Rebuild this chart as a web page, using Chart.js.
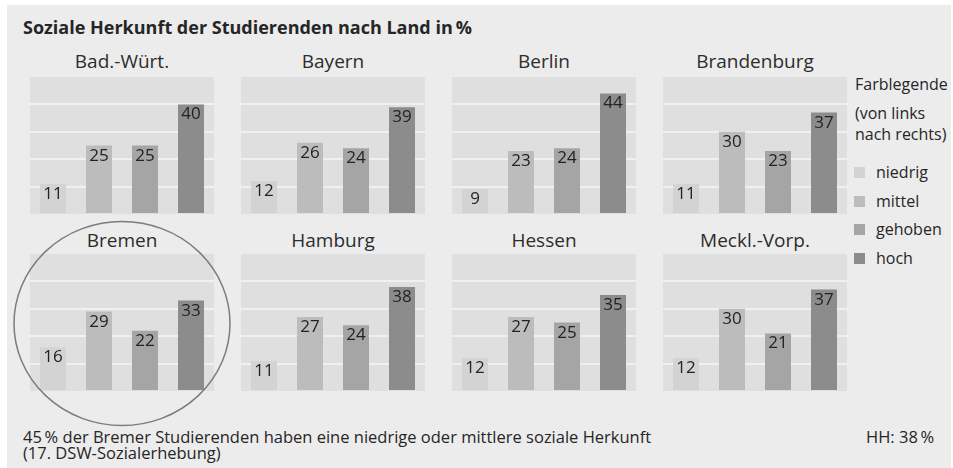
<!DOCTYPE html>
<html lang="de">
<head>
<meta charset="utf-8">
<title>Soziale Herkunft der Studierenden nach Land</title>
<script src="https://cdn.jsdelivr.net/npm/chart.js@4/dist/chart.umd.min.js"></script>
<style>
    body {
        margin: 0;
        width: 953px;
        height: 468px;
        background: #ffffff;
        font-family: "Open Sans", sans-serif;
        color: #262626;
        overflow: hidden;
    }
    .frame {
        position: absolute;
        left: 7px;
        top: 5px;
        width: 944px;
        height: 463px;
        background: #ececec;
    }
    .txt {
        position: absolute;
        white-space: nowrap;
        line-height: 1;
    }
    .main-title {
        left: 23px;
        top: 18px;
        font-size: 18px;
        font-weight: bold;
    }
    .panel-title {
        width: 184px;
        text-align: center;
        font-size: 19px;
        color: #2c2c2c;
    }
    .panel {
        position: absolute;
        width: 184px;
        height: 137px;
    }
    .legend-text {
        font-size: 16px;
        left: 855px;
    }
    .swatch {
        position: absolute;
        left: 854px;
        width: 11px;
        height: 11px;
    }
    .note {
        font-size: 16.5px;
    }
    svg.ring {
        position: absolute;
        left: 0;
        top: 0;
        pointer-events: none;
    }
</style>
</head>
<body>
<div class="frame"></div>
<div class="txt main-title">Soziale Herkunft der Studierenden nach Land in&#8201;%</div>
<div id="panels"></div>
<div id="legend"></div>
<div class="txt note" style="left:23px; top:429px;">45&#8201;% der Bremer Studierenden haben eine niedrige oder mittlere soziale Herkunft</div>
<div class="txt note" style="left:23px; top:444.5px;">(17. DSW-Sozialerhebung)</div>
<div class="txt note" style="left:866px; top:429px;">HH: 38&#8201;%</div>
<svg class="ring" width="953" height="468">
    <ellipse cx="122" cy="323.5" rx="108" ry="102" fill="none" stroke="#7c7c7c" stroke-width="1.5"></ellipse>
</svg>

<script>
// Data
const states = ['Bad.-Würt.', 'Bayern', 'Berlin', 'Brandenburg', 'Bremen', 'Hamburg', 'Hessen', 'Meckl.-Vorp.'];
const groups = ['niedrig', 'mittel', 'gehoben', 'hoch'];
const niedrig = [11, 12, 9, 11, 16, 11, 12, 12];
const mittel = [25, 26, 23, 30, 29, 27, 27, 30];
const gehoben = [25, 24, 24, 23, 22, 24, 25, 21];
const hoch = [40, 39, 44, 37, 33, 38, 35, 37];
const yTicks = [0, 10, 20, 30, 40, 50];

const groupColors = ['#d3d3d3', '#bcbcbc', '#a5a5a5', '#8c8c8c'];

// Layout
const panelLeft = [30, 241, 452, 663];
const panelTop = [77, 254];
const titleTop = [52, 231];

// Plot background + value labels
const panelPlugin = {
    id: 'panelPlugin',
    beforeDraw(chart) {
        const a = chart.chartArea;
        const ctx = chart.ctx;
        ctx.save();
        ctx.fillStyle = '#dfdfdf';
        ctx.fillRect(a.left, a.top, a.right - a.left, a.bottom - a.top);
        ctx.restore();
    },
    afterDatasetsDraw(chart) {
        const ctx = chart.ctx;
        const meta = chart.getDatasetMeta(0);
        const values = chart.data.datasets[0].data;
        ctx.save();
        ctx.font = '17px "Open Sans", sans-serif';
        ctx.fillStyle = '#222222';
        ctx.textAlign = 'center';
        ctx.textBaseline = 'alphabetic';
        meta.data.forEach((bar, i) => {
            ctx.fillText(String(values[i]), bar.x, bar.y + 15);
        });
        ctx.restore();
    }
};

function buildPanel(index) {
    const row = Math.floor(index / 4);
    const col = index % 4;
    const values = [niedrig[index], mittel[index], gehoben[index], hoch[index]];

    const title = document.createElement('div');
    title.className = 'txt panel-title';
    title.style.left = panelLeft[col] + 'px';
    title.style.top = titleTop[row] + 'px';
    title.textContent = states[index];
    document.getElementById('panels').appendChild(title);

    const box = document.createElement('div');
    box.className = 'panel';
    box.style.left = panelLeft[col] + 'px';
    box.style.top = panelTop[row] + 'px';
    const canvas = document.createElement('canvas');
    box.appendChild(canvas);
    document.getElementById('panels').appendChild(box);

    new Chart(canvas, {
        type: 'bar',
        data: {
            labels: groups,
            datasets: [{
                data: values,
                backgroundColor: groupColors,
                categoryPercentage: 1,
                barPercentage: 0.565
            }]
        },
        options: {
            responsive: true,
            maintainAspectRatio: false,
            animation: false,
            layout: { padding: 0 },
            plugins: {
                legend: { display: false },
                tooltip: { enabled: false }
            },
            scales: {
                x: { display: false },
                y: {
                    min: 0,
                    max: 50,
                    afterBuildTicks: axis => {
                        axis.ticks = yTicks.map(v => ({ value: v }));
                    },
                    ticks: { display: false },
                    border: { display: false },
                    grid: {
                        drawTicks: false,
                        lineWidth: 2,
                        color: c => (c.tick.value === 0 || c.tick.value === 50) ? 'rgba(0,0,0,0)' : '#f0f0f0'
                    }
                }
            }
        },
        plugins: [panelPlugin]
    });
}

function buildLegend() {
    const legend = document.getElementById('legend');
    const lines = [['Farblegende', 76], ['(von links', 105], ['nach rechts)', 126]];
    lines.forEach(([text, top]) => {
        const el = document.createElement('div');
        el.className = 'txt legend-text';
        el.style.top = top + 'px';
        el.textContent = text;
        legend.appendChild(el);
    });

    const centers = [172, 201, 229.5, 258];
    groups.forEach((g, i) => {
        const sw = document.createElement('div');
        sw.className = 'swatch';
        sw.style.top = (centers[i] - 5.5) + 'px';
        sw.style.background = groupColors[i];
        legend.appendChild(sw);

        const el = document.createElement('div');
        el.className = 'txt legend-text';
        el.style.left = '876px';
        el.style.top = (centers[i] - 8.5) + 'px';
        el.textContent = g;
        legend.appendChild(el);
    });
}

states.forEach((s, i) => buildPanel(i));
buildLegend();
</script>
</body>
</html>
